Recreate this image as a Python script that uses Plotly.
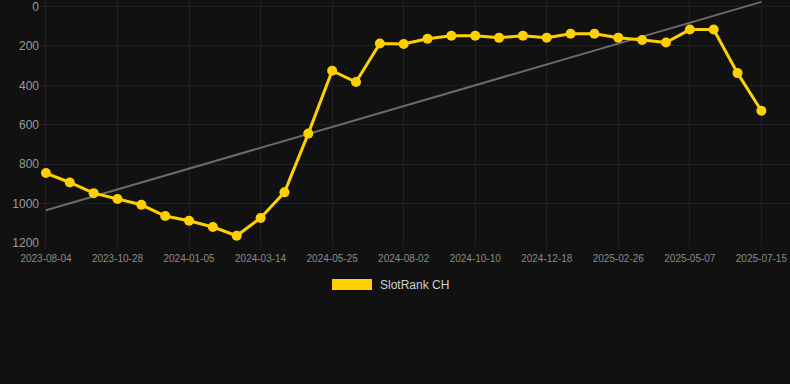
import numpy as np
import plotly.graph_objects as go

dates = [
    "2023-08-04", "2023-08-31", "2023-09-28", "2023-10-28", "2023-11-20", "2023-12-13",
    "2024-01-05", "2024-01-28", "2024-02-20", "2024-03-14", "2024-04-07", "2024-05-01",
    "2024-05-25", "2024-06-17", "2024-07-10", "2024-08-02", "2024-08-25", "2024-09-17",
    "2024-10-10", "2024-11-02", "2024-11-25", "2024-12-18", "2025-01-10", "2025-02-03",
    "2025-02-26", "2025-03-21", "2025-04-14", "2025-05-07", "2025-05-30", "2025-06-22",
    "2025-07-15",
]
ranks = [
    845, 893, 947, 977, 1006, 1063, 1087, 1119, 1163, 1073,
    943, 645, 326, 383, 188, 190, 164, 148, 148, 159,
    148, 158, 138, 138, 158, 170, 183, 117, 117, 338,
    529,
]
tick_labels = dates[::3]
y_ticks = [0, 200, 400, 600, 800, 1000, 1200]
series_name = "SlotRank CH"

# linear trend line (least squares over the series)
idx = np.arange(len(ranks))
slope, intercept = np.polyfit(idx, ranks, 1)
trend = intercept + slope * idx

gold = "#FFD000"
grid = "#202020"

fig = go.Figure()
fig.add_trace(go.Scatter(
    x=dates, y=trend, mode="lines",
    line=dict(color="#6b6b6b", width=2),
    showlegend=False, hoverinfo="skip",
))
fig.add_trace(go.Scatter(
    x=dates, y=ranks, mode="lines+markers", name=series_name,
    line=dict(color=gold, width=3),
    marker=dict(color=gold, size=10),
    showlegend=False,
))

W, H = 790, 384
L, R, T, B = 40, 0, 0, 141
pw, ph = W - L - R, H - T - B

def px(x):
    return (x - L) / pw

def py(y):
    return (H - B - y) / ph

fig.add_shape(type="rect", xref="paper", yref="paper",
              x0=px(332), x1=px(372), y0=py(290), y1=py(279),
              fillcolor=gold, line=dict(color=gold, width=0))
fig.add_annotation(xref="paper", yref="paper", x=px(378), y=py(285),
                   xanchor="left", yanchor="middle", showarrow=False,
                   text=series_name,
                   font=dict(family="Liberation Sans, Arial, sans-serif", size=12, color="#d0d0d0"))

fig.update_layout(
    width=W, height=H,
    margin=dict(l=L, r=R, t=T, b=B),
    paper_bgcolor="#111111", plot_bgcolor="#111111",
    font=dict(family="Liberation Sans, Arial, sans-serif"),
    xaxis=dict(
        type="category",
        range=[-0.25, 31.2],
        tickmode="array", tickvals=tick_labels, ticktext=tick_labels,
        tickangle=0,
        showgrid=True, gridcolor=grid, gridwidth=1,
        ticks="outside", ticklen=6, tickcolor=grid,
        tickfont=dict(size=10, color="#8a8a8a"),
        ticklabeloverflow="allow",
        zeroline=False, showline=False,
    ),
    yaxis=dict(
        range=[1200, -33],
        tickmode="array", tickvals=y_ticks,
        showgrid=True, gridcolor=grid, gridwidth=1,
        tickfont=dict(size=12, color="#9a9a9a"),
        ticklabeloverflow="allow",
        zeroline=False, showline=False,
    ),
)

fig.write_html(
    "out.html",
    config={"displayModeBar": False},
    post_script="document.body.style.margin='0';document.body.style.background='#111111';",
)
